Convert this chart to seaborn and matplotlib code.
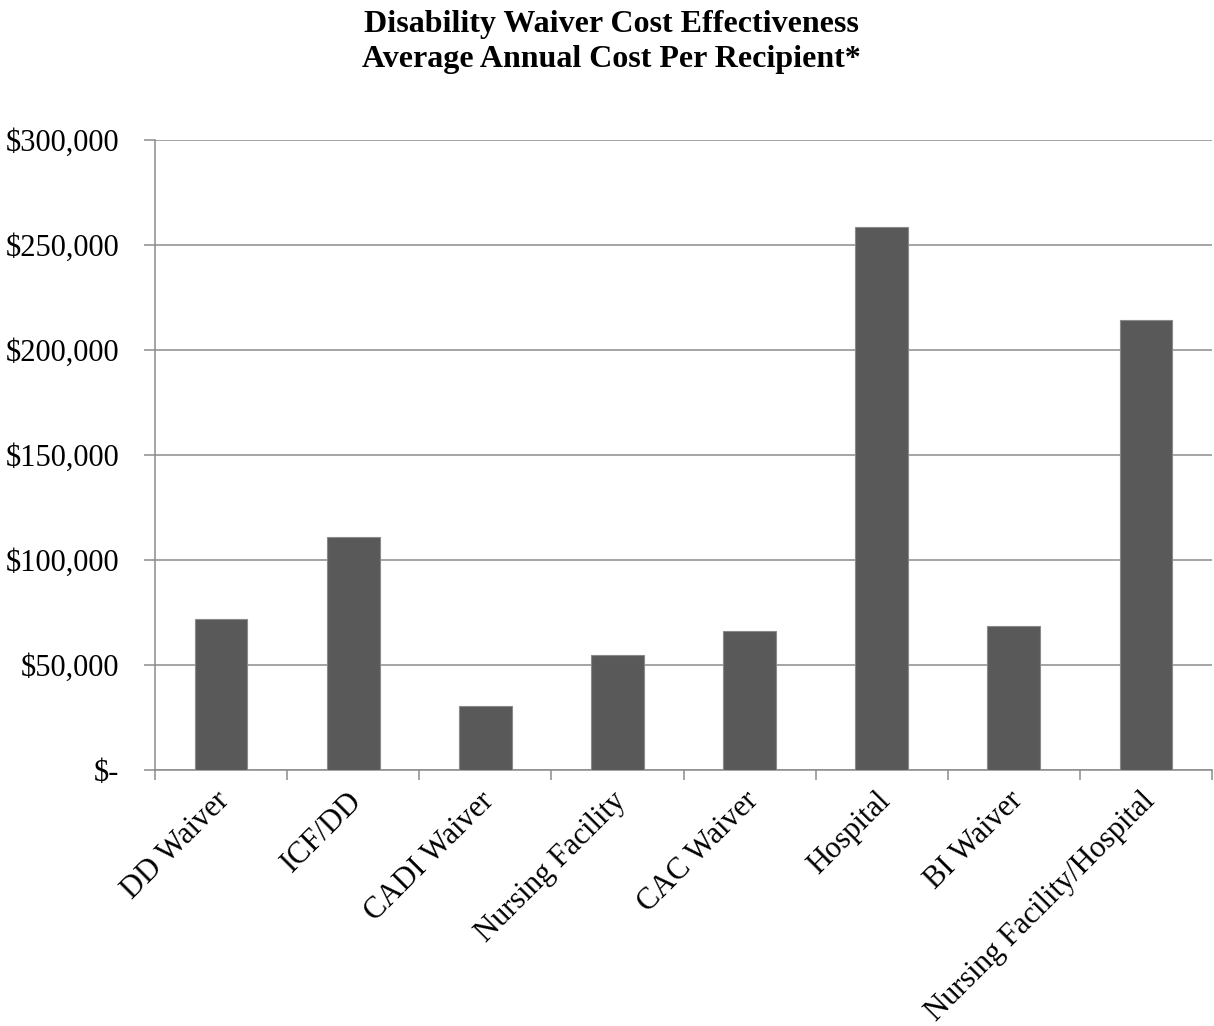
import matplotlib
matplotlib.use("Agg")
import matplotlib.pyplot as plt
import seaborn as sns
import pandas as pd
from matplotlib.ticker import FixedLocator
from matplotlib.transforms import ScaledTranslation

categories = ["DD Waiver", "ICF/DD", "CADI Waiver", "Nursing Facility",
              "CAC Waiver", "Hospital", "BI Waiver", "Nursing Facility/Hospital"]
costs = [71800, 110800, 30700, 54800, 66200, 258600, 68700, 214300]
ytick_values = [0, 50000, 100000, 150000, 200000, 250000, 300000]
ytick_labels = ["$-", "$50,000", "$100,000", "$150,000", "$200,000", "$250,000", "$300,000"]
title_lines = ["Disability Waiver Cost Effectiveness", "Average Annual Cost Per Recipient*"]

sns.set_theme(style="white")
plt.rcParams['font.family'] = ['Liberation Serif', 'DejaVu Serif']
plt.rcParams['text.color'] = 'black'

df = pd.DataFrame({"category": categories, "cost": costs})

fig = plt.figure(figsize=(12.14, 10.26), dpi=100)
ax = fig.add_axes([155/1214, 1 - 770/1026, (1212 - 155)/1214, (770 - 140)/1026])

sns.barplot(data=df, x="category", y="cost", color="#595959", saturation=1,
            width=0.4, edgecolor="#8a8a8a", linewidth=0.8, ax=ax, zorder=3)

ax.set_ylim(0, 300000)
ax.set_xlim(-0.5, len(categories) - 0.5)
ax.set_yticks(ytick_values)
ax.set_yticklabels(ytick_labels, fontsize=22, color="black")
ax.yaxis.grid(True, color="#8c8c8c", linewidth=1.1, zorder=0)
ax.set_axisbelow(True)
ax.tick_params(axis="y", length=8, width=1.1, color="#8c8c8c", direction="out", pad=17.5, left=True)

ax.set_xticks(range(len(categories)))
ax.set_xticklabels(categories, fontsize=22, rotation=45, ha="right",
                   rotation_mode="anchor", color="black")
ax.tick_params(axis="x", which="major", length=0, pad=16)
ax.xaxis.set_minor_locator(FixedLocator([i - 0.5 for i in range(len(categories) + 1)]))
ax.tick_params(axis="x", which="minor", length=7, width=1.1, color="#8c8c8c",
               direction="out", bottom=True)

shift = ScaledTranslation(-6/100, 6/100, fig.dpi_scale_trans)
for lbl in ax.get_xticklabels():
    lbl.set_transform(lbl.get_transform() + shift)

for side in ["top", "right"]:
    ax.spines[side].set_visible(False)
for side in ["left", "bottom"]:
    ax.spines[side].set_color("#8c8c8c")
    ax.spines[side].set_linewidth(1.1)

ax.set_xlabel("")
ax.set_ylabel("")

fig.text(611/1214, 1 - 32/1026, title_lines[0], ha="center", va="baseline",
         fontsize=23, fontweight="bold", color="black")
fig.text(611/1214, 1 - 67/1026, title_lines[1], ha="center", va="baseline",
         fontsize=23, fontweight="bold", color="black")

fig.savefig("out.png", dpi=100)
